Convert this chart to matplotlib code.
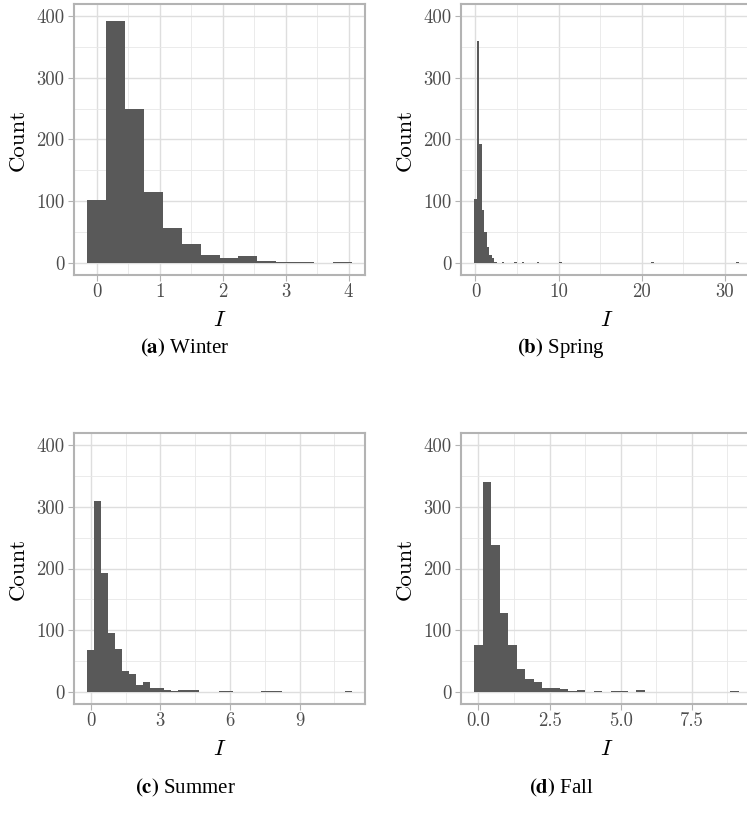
import matplotlib
matplotlib.use("Agg")
import matplotlib.pyplot as plt
from matplotlib.ticker import FixedLocator

plt.rcParams["mathtext.fontset"] = "cm"

# ---------------- data (bin centres, bin width 0.3) ----------------
BIN_WIDTH = 0.3

winter_centers = [0.0, 0.3, 0.6, 0.9, 1.2, 1.5, 1.8, 2.1, 2.4, 2.7, 3.0, 3.3, 3.9]
winter_counts = [102, 393, 250, 115, 56, 30, 12, 8, 11, 3, 1, 1, 1]

spring_centers = [0.0, 0.3, 0.6, 0.9, 1.2, 1.5, 1.8, 2.1, 2.4, 3.3, 4.8, 5.7, 7.5, 10.2, 21.3, 31.5]
spring_counts = [103, 360, 193, 85, 50, 25, 12, 7, 1, 1, 1, 1, 1, 1, 1, 1]

summer_centers = [0.0, 0.3, 0.6, 0.9, 1.2, 1.5, 1.8, 2.1, 2.4, 2.7, 3.0, 3.3, 3.6, 3.9, 4.2, 4.5,
                  5.7, 6.0, 7.5, 7.8, 8.1, 11.1]
summer_counts = [68, 310, 193, 95, 69, 34, 29, 11, 16, 6, 6, 3, 1, 3, 3, 3,
                 1, 1, 1, 1, 1, 1]

fall_centers = [0.0, 0.3, 0.6, 0.9, 1.2, 1.5, 1.8, 2.1, 2.4, 2.7, 3.0, 3.3, 3.6, 4.2, 4.8, 5.1, 5.7, 9.0]
fall_counts = [76, 341, 238, 128, 75, 37, 21, 16, 6, 6, 4, 1, 3, 1, 1, 1, 3, 1]

winter_xticks = [0, 1, 2, 3, 4]
winter_xticklabels = ["0", "1", "2", "3", "4"]
spring_xticks = [0, 10, 20, 30]
spring_xticklabels = ["0", "10", "20", "30"]
summer_xticks = [0, 3, 6, 9]
summer_xticklabels = ["0", "3", "6", "9"]
fall_xticks = [0, 2.5, 5, 7.5]
fall_xticklabels = ["0.0", "2.5", "5.0", "7.5"]

y_ticks = [0, 100, 200, 300, 400]
y_ticklabels = ["0", "100", "200", "300", "400"]
y_max = 400

captions = [("(a)", "Winter"), ("(b)", "Spring"), ("(c)", "Summer"), ("(d)", "Fall")]

# ---------------- layout ----------------
W, H = 747, 817
fig = plt.figure(figsize=(W / 100, H / 100), dpi=100)


def rect(left, top, right, bottom):
    return [left / W, 1 - bottom / H, (right - left) / W, (bottom - top) / H]


panels = [
    (winter_centers, winter_counts, winter_xticks, winter_xticklabels, rect(74, 4, 365, 275), (185, 348)),
    (spring_centers, spring_counts, spring_xticks, spring_xticklabels, rect(461, 4, 752, 275), (561, 348)),
    (summer_centers, summer_counts, summer_xticks, summer_xticklabels, rect(74, 433, 365, 704), (185, 788)),
    (fall_centers, fall_counts, fall_xticks, fall_xticklabels, rect(461, 433, 752, 704), (561, 788)),
]

GRID_MAJOR = "#DEDEDE"
GRID_MINOR = "#E8E8E8"
BORDER = "#B3B3B3"
TICKTXT = "#4D4D4D"
BARC = "#595959"

for (centers, counts, xt, xtl, r, cap_xy), (tag, name) in zip(panels, captions):
    ax = fig.add_axes(r)
    ax.bar(centers, counts, width=BIN_WIDTH, color=BARC, linewidth=0, zorder=2)

    lo = min(centers) - BIN_WIDTH / 2
    hi = max(centers) + BIN_WIDTH / 2
    pad = 0.05 * (hi - lo)
    ax.set_xlim(lo - pad, hi + pad)
    ax.set_ylim(-0.05 * y_max, 1.05 * y_max)

    ax.set_xticks(xt)
    ax.set_xticklabels(xtl, fontfamily="cmr10", fontsize=13.5, color=TICKTXT)
    ax.set_yticks(y_ticks)
    ax.set_yticklabels(y_ticklabels, fontfamily="cmr10", fontsize=13.5, color=TICKTXT)

    step = xt[1] - xt[0]
    xminor = [t + step / 2 for t in xt] + [xt[0] - step / 2]
    ax.xaxis.set_minor_locator(FixedLocator(xminor))
    ax.yaxis.set_minor_locator(FixedLocator([t + 50 for t in y_ticks]))

    ax.set_axisbelow(True)
    ax.grid(which="major", color=GRID_MAJOR, linewidth=1.0, zorder=0)
    ax.grid(which="minor", color=GRID_MINOR, linewidth=0.6, zorder=0)
    ax.tick_params(which="minor", length=0)
    ax.tick_params(which="major", length=4, width=0.8, color=BORDER, pad=2)
    ax.tick_params(axis="y", which="major", pad=3)

    for s in ax.spines.values():
        s.set_color(BORDER)
        s.set_linewidth(1.5)
        s.set_zorder(3)

    ax.set_ylabel("Count", fontfamily="cmr10", fontsize=16.5, color="black", labelpad=6)
    ax.set_xlabel("$I$", fontsize=16.5, color="black", labelpad=5)

    fig.text(cap_xy[0] / W, 1 - cap_xy[1] / H, r"$\mathbf{" + tag + "}$ " + name,
             fontfamily="Liberation Serif", math_fontfamily="stix", fontsize=15,
             ha="center", va="center")

fig.savefig("out.png", dpi=100)
